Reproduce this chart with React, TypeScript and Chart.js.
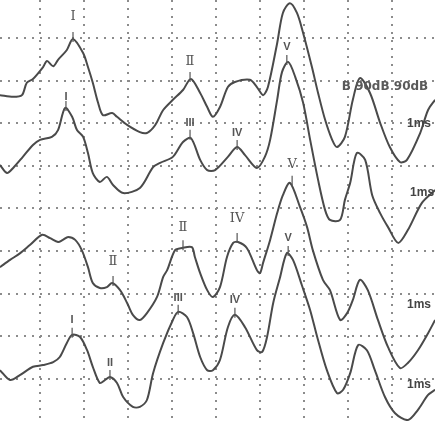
import React, { useEffect, useRef } from "react";
import { Chart, registerables } from "chart.js";

Chart.register(...registerables);

// Time axis in ms (1 grid division = 1 ms), amplitude in grid divisions.
const time1 = [-0.91, -0.61, -0.41, -0.30, -0.16, 0.07, 0.16, 0.30, 0.41, 0.61, 0.75, 0.98, 1.09, 1.20, 1.32, 1.43, 1.64, 1.75, 1.98, 2.27, 2.43, 2.57, 2.66, 2.80, 3.02, 3.25, 3.43, 3.64, 3.80, 3.93, 4.09, 4.27, 4.43, 4.77, 4.93, 5.07, 5.18, 5.39, 5.52, 5.68, 5.84, 5.98, 6.18, 6.32, 6.48, 6.64, 6.75, 6.93, 7.11, 7.27, 7.50, 7.73, 7.95, 8.18, 8.34, 8.64, 8.82, 8.98];
const amp1 = [7.66, 7.62, 7.66, 7.95, 8.04, 8.32, 8.46, 8.34, 8.49, 8.72, 8.98, 8.65, 8.32, 7.95, 7.48, 7.19, 7.24, 7.15, 6.96, 6.79, 6.77, 6.89, 7.03, 7.31, 7.55, 7.78, 8.04, 7.71, 7.38, 7.15, 7.38, 7.85, 7.97, 8.02, 7.85, 7.66, 7.85, 8.88, 9.59, 9.82, 9.59, 9.12, 8.32, 7.71, 7.08, 6.61, 6.44, 6.68, 7.55, 8.06, 7.71, 7.01, 6.44, 6.09, 6.14, 6.77, 7.31, 7.55];

const time2 = [-0.91, -0.75, -0.61, -0.39, -0.16, 0.00, 0.27, 0.41, 0.57, 0.73, 0.84, 0.98, 1.09, 1.20, 1.36, 1.52, 1.66, 1.89, 2.27, 2.57, 2.73, 3.02, 3.25, 3.43, 3.64, 3.80, 3.98, 4.27, 4.48, 4.66, 4.93, 5.11, 5.23, 5.39, 5.50, 5.64, 5.80, 5.98, 6.14, 6.32, 6.48, 6.59, 6.82, 6.93, 7.05, 7.20, 7.39, 7.55, 7.73, 7.91, 8.14, 8.36, 8.68, 8.98];
const amp2 = [6.02, 5.83, 5.95, 6.21, 6.49, 6.61, 6.68, 6.84, 7.36, 7.15, 6.84, 6.68, 6.30, 5.83, 5.62, 5.74, 5.55, 5.36, 5.48, 5.97, 6.07, 6.21, 6.56, 6.65, 6.14, 5.90, 5.90, 6.21, 6.44, 6.25, 5.95, 6.21, 6.61, 7.55, 8.20, 8.44, 8.09, 7.48, 6.61, 5.67, 4.96, 4.73, 4.73, 5.20, 5.60, 6.30, 6.14, 5.31, 4.89, 4.56, 4.19, 4.49, 5.13, 5.43];

const time3 = [-0.91, -0.68, -0.45, -0.23, 0.05, 0.23, 0.41, 0.52, 0.64, 0.80, 0.95, 1.09, 1.20, 1.36, 1.52, 1.64, 1.82, 1.98, 2.11, 2.27, 2.43, 2.66, 2.80, 2.89, 3.07, 3.23, 3.45, 3.52, 3.64, 3.80, 3.93, 4.09, 4.25, 4.39, 4.50, 4.70, 4.93, 5.00, 5.07, 5.23, 5.39, 5.52, 5.68, 5.91, 6.07, 6.20, 6.43, 6.59, 6.82, 6.98, 7.11, 7.27, 7.45, 7.68, 7.91, 8.18, 8.36, 8.59, 8.82, 8.98];
const amp3 = [3.62, 3.79, 3.95, 4.14, 4.38, 4.30, 4.21, 4.26, 4.33, 4.26, 4.02, 3.62, 3.25, 3.13, 3.15, 3.25, 3.08, 2.78, 2.50, 2.38, 2.54, 2.92, 3.39, 3.55, 4.02, 4.07, 4.09, 3.86, 3.48, 3.08, 2.92, 3.15, 3.86, 4.19, 4.21, 4.07, 3.55, 3.48, 3.72, 4.26, 4.89, 5.31, 5.60, 5.03, 4.56, 4.02, 3.32, 3.08, 2.38, 2.54, 2.85, 3.32, 3.08, 2.38, 1.74, 1.25, 1.37, 1.67, 2.07, 2.38];

const time4 = [-0.91, -0.68, -0.45, -0.16, 0.07, 0.30, 0.45, 0.61, 0.73, 0.91, 1.07, 1.20, 1.36, 1.48, 1.59, 1.75, 1.89, 2.11, 2.27, 2.43, 2.57, 2.80, 3.02, 3.14, 3.34, 3.48, 3.64, 3.80, 3.93, 4.09, 4.27, 4.43, 4.66, 4.93, 5.05, 5.16, 5.30, 5.45, 5.61, 5.75, 5.95, 6.14, 6.30, 6.52, 6.75, 6.89, 7.05, 7.23, 7.43, 7.61, 7.84, 8.07, 8.36, 8.59, 8.82, 8.98];
const amp4 = [1.20, 0.97, 1.09, 1.28, 1.32, 1.39, 1.51, 1.84, 2.03, 1.98, 1.67, 1.28, 0.90, 0.97, 1.04, 0.90, 0.57, 0.34, 0.34, 0.50, 1.13, 1.84, 2.38, 2.57, 2.45, 2.07, 1.51, 1.20, 1.20, 1.44, 2.21, 2.50, 2.21, 1.67, 1.63, 1.98, 2.78, 3.36, 3.95, 3.79, 3.20, 2.61, 1.98, 1.20, 0.66, 0.74, 1.13, 1.79, 1.67, 1.20, 0.57, 0.19, 0.03, 0.27, 0.62, 0.74];

// Wave labels: text, latency (ms), label amplitude, peak amplitude, trace index
const waveText = ["Ⅰ", "Ⅱ", "I", "III", "IV", "V", "Ⅱ", "Ⅱ", "IV", "V", "I", "II", "III", "IV", "V"];
const waveTime = [0.75, 3.41, 0.59, 3.41, 4.48, 5.61, 1.66, 3.25, 4.48, 5.73, 0.73, 1.59, 3.14, 4.43, 5.64];
const waveLabelAmp = [9.50, 8.44, 7.62, 7.01, 6.77, 8.79, 3.74, 4.56, 4.77, 6.02, 2.38, 1.37, 2.90, 2.85, 4.30];
const wavePeakAmp = [8.98, 8.04, 7.36, 6.68, 6.44, 8.44, 3.25, 4.09, 4.26, 5.60, 2.03, 1.04, 2.57, 2.50, 3.95];
const waveTrace = [1, 1, 2, 2, 2, 2, 3, 3, 3, 3, 4, 4, 4, 4, 4];

// Side notes
const noteText = ["B 90dB 90dB", "1ms", "1ms", "1ms", "1ms"];
const noteTime = [6.86, 8.34, 8.41, 8.34, 8.34];
const noteAmp = [7.85, 6.98, 5.38, 2.73, 0.86];

const gridTimes = [0, 1, 2, 3, 4, 5, 6, 7, 8];
const gridAmps = [1, 2, 3, 4, 5, 6, 7, 8, 9];

const W = 435;
const H = 421;

function series(t: number[], a: number[]) {
  return t.map((v, i) => ({ x: v, y: a[i] }));
}

const labelsPlugin = {
  id: "waveLabels",
  afterDatasetsDraw(chart: any) {
    const ctx = chart.ctx;
    const xs = chart.scales.x;
    const ys = chart.scales.y;
    ctx.save();
    ctx.strokeStyle = "#555";
    ctx.fillStyle = "#555";
    ctx.lineWidth = 1.2;
    ctx.textAlign = "center";
    ctx.textBaseline = "middle";
    waveText.forEach((txt, i) => {
      const px = xs.getPixelForValue(waveTime[i]);
      const pyPeak = ys.getPixelForValue(wavePeakAmp[i]);
      const pyText = ys.getPixelForValue(waveLabelAmp[i]);
      ctx.beginPath();
      ctx.moveTo(px, pyPeak - 7);
      ctx.lineTo(px, pyPeak + 3);
      ctx.stroke();
      const tr = waveTrace[i];
      if (tr === 1 || tr === 3) {
        ctx.font = "13px 'DejaVu Serif'";
      } else {
        ctx.font = "bold 11px 'Liberation Sans Narrow', 'Liberation Sans'";
      }
      ctx.fillText(txt, px, pyText);
    });
    ctx.textAlign = "left";
    noteText.forEach((txt, i) => {
      const px = xs.getPixelForValue(noteTime[i]);
      const py = ys.getPixelForValue(noteAmp[i]);
      if (i === 0) {
        ctx.font = "bold 12px 'DejaVu Sans'";
        ctx.fillStyle = "#5a5a5a";
      } else {
        ctx.font = "bold 12px 'Liberation Sans'";
        ctx.fillStyle = "#444";
      }
      ctx.fillText(txt, px, py);
    });
    ctx.restore();
  },
};

export default function App() {
  const ref = useRef<HTMLCanvasElement | null>(null);

  useEffect(() => {
    if (!ref.current) return;
    const lineStyle = {
      borderColor: "#4a4a4a",
      borderWidth: 2,
      pointRadius: 0,
      tension: 0.3,
      fill: false,
    };
    const chart = new Chart(ref.current, {
      type: "line",
      data: {
        datasets: [
          { ...lineStyle, data: series(time1, amp1) },
          { ...lineStyle, data: series(time2, amp2) },
          { ...lineStyle, data: series(time3, amp3) },
          { ...lineStyle, data: series(time4, amp4) },
        ],
      },
      options: {
        animation: false,
        responsive: false,
        maintainAspectRatio: false,
        layout: { padding: 0 },
        plugins: {
          legend: { display: false },
          tooltip: { enabled: false },
        },
        scales: {
          x: {
            type: "linear",
            min: -40 / 44,
            max: 395 / 44,
            afterBuildTicks: (s: any) => {
              s.ticks = gridTimes.map((v) => ({ value: v }));
            },
            ticks: { display: false },
            border: { display: false, dash: [2, 6] },
            grid: {
              drawTicks: false,
              color: "#8c8c8c",
              lineWidth: 2,
            },
          },
          y: {
            type: "linear",
            min: 0.007,
            max: 9.894,
            afterBuildTicks: (s: any) => {
              s.ticks = gridAmps.map((v) => ({ value: v }));
            },
            ticks: { display: false },
            border: { display: false, dash: [2, 6] },
            grid: {
              drawTicks: false,
              color: "#8c8c8c",
              lineWidth: 2,
            },
          },
        },
      } as any,
      plugins: [labelsPlugin],
    });
    return () => chart.destroy();
  }, []);

  return (
    <div style={{ position: "fixed", left: 0, top: 0, width: W, height: H, background: "#fff" }}>
      <canvas ref={ref} width={W} height={H} style={{ width: W, height: H, display: "block" }} />
    </div>
  );
}
